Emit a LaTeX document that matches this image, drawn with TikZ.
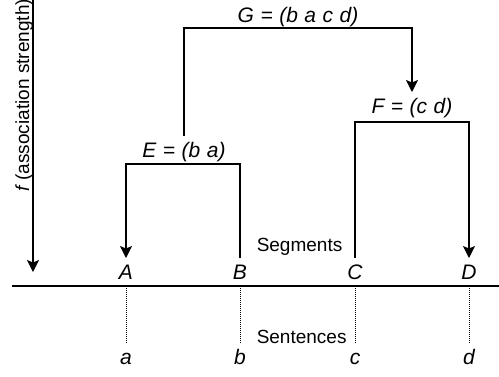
\documentclass[tikz,border=0pt]{standalone}
\usepackage{fontspec}
\setmainfont{Liberation Sans}
\usetikzlibrary{arrows.meta,positioning}
\newcommand\widesp{\spaceskip=6.5pt\relax}
\tikzstyle{lbl}=[font=\fontsize{21}{24}\selectfont\itshape\widesp,
        inner sep=3pt, outer sep=3pt, text height=15pt, anchor=base]
\tikzstyle{low}=[lbl, text height=14pt, outer sep=4pt]
\tikzstyle{txt}=[font=\fontsize{19}{22}\selectfont, inner sep=0pt]
\tikzstyle{arr}=[-{Stealth[length=12pt, width=12pt, inset=2.5pt]}]
\tikzstyle{dots}=[densely dotted, line width=1pt]

\begin{document}
\begin{tikzpicture}[x=1pt, y=-1pt, line width=1.5pt]
        \useasboundingbox (0,0) rectangle (499,376);

        % segments on the axis, sentences below it
        \node[lbl] (A) at (126,279) {A};
        \node[lbl] (B) at (240,279) {B};
        \node[lbl] (C) at (355,279) {C};
        \node[lbl] (D) at (469,279) {D};
        \node[low] (a) at (126,364) {a};
        \node[low] (b) at (240,364) {b};
        \node[low] (c) at (355,364) {c};
        \node[low] (d) at (469,364) {d};
        \node[txt, anchor=base west] (seg) at (256,251) {Segments};
        \node[txt, anchor=base west] (sen) at (256,343) {Sentences};

        \coordinate (l) at (12,286);
        \coordinate (r) at (499,286);
        \draw (l) -- (r);
        \draw[dots] (A |- l) -- (a.north);
        \draw[dots] (B |- l) -- (b.north);
        \draw[dots] (C |- l) -- (c.north);
        \draw[dots] (D |- l) -- (d.north);

        % clusters
        \node[lbl] (E) at (184,157) {E = (b a)};
        \node[lbl] (F) at (412,113) {F = (c d)};
        \node[lbl] (G) at (298,22) {G = (b a c d)};
        \coordinate (e) at (184,164);
        \coordinate (f) at (412,122);
        \coordinate (g) at (298,28);

        \draw[arr] (e) -| (A.north);
        \draw (e) -| (B.north);
        \draw (f) -| (C.north);
        \draw[arr] (f) -| (D.north);
        \draw[arr] (E.north) |- (g) -| (F.north);

        % strength axis
        \coordinate (top) at (33,0);
        \coordinate (bot) at (33,272);
        \draw[arr] (top) -- (bot);
        \node[txt, rotate=90, anchor=base] (fs) at (29,95)
            {\itshape f\upshape{} (association strength)};

    \end{tikzpicture}
\end{document}
